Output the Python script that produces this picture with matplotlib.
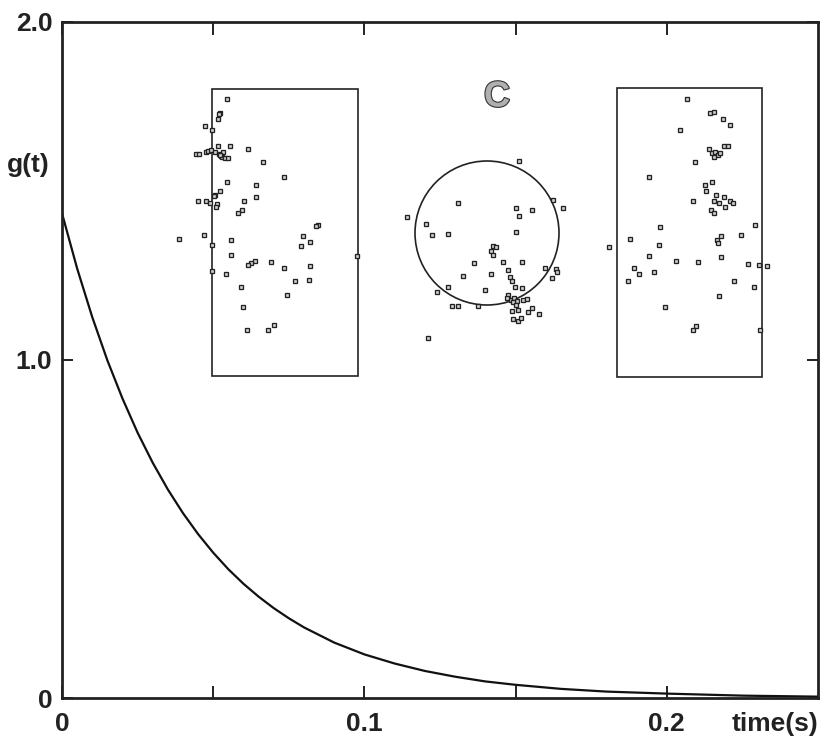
import numpy as np
import matplotlib
matplotlib.use('Agg')
import matplotlib.pyplot as plt
from matplotlib.patches import Rectangle, Circle
import matplotlib.patheffects as pe

# decay curve g(t)
t = [0, 0.005, 0.010, 0.015, 0.020, 0.025, 0.030, 0.035, 0.040, 0.045,
     0.050, 0.055, 0.060, 0.065, 0.070, 0.075, 0.080, 0.090, 0.100, 0.110,
     0.120, 0.130, 0.140, 0.150, 0.165, 0.180, 0.200, 0.225, 0.250]
g = [1.434, 1.271, 1.127, 0.999, 0.886, 0.785, 0.696, 0.617, 0.547, 0.485,
     0.430, 0.381, 0.338, 0.300, 0.266, 0.236, 0.209, 0.164, 0.129, 0.102,
     0.080, 0.063, 0.049, 0.039, 0.027, 0.019, 0.013, 0.007, 0.004]

xticks = [0, 0.05, 0.1, 0.15, 0.2]
xticklabels = ['0', '', '0.1', '', '0.2']
yticks = [0, 1.0, 2.0]
yticklabels = ['0', '1.0', '2.0']

# spike positions in the three arenas (local units, y downward)
left_x = [15, 8, 7, 6, -7, 0, 6, 18, 36, -16, -13, -6, -4, -1, 3, 11, 7, 9, 10, 13, 16, 8,
          51, 72, 15, 44, 8, 3, 2, 44, 32, -14, -6, -2, 5, 4, 30, 26, 106, 104, 91, -8,
          -33, 19, 98, 89, 0, 19, 43, 39, 36, 59, 145, 72, 98, 0, 14, 83, 97, 29, 75, 31,
          62, 56, 35]
left_y = [10, 24, 25, 30, 37, 41, 57, 57, 60, 65, 65, 63, 62, 61, 63, 63, 65, 67, 68, 69, 69, 66,
          73, 88, 93, 96, 102, 106, 107, 108, 112, 112, 112, 114, 115, 118, 121, 124, 136, 137, 147, 146,
          150, 151, 153, 157, 156, 166, 172, 174, 176, 173, 167, 179, 177, 182, 185, 192, 191, 198, 206, 218,
          236, 241, 241]

right_x = [70, 93, 97, 106, 113, 63, 107, 111, 92, 95, 98, 101, 103, 97, 78, 32, 95, 88, 89, 99,
           107, 76, 97, 102, 113, 116, 108, 94, 97, 138, 43, 124, 104, 100, 101, 13, -8, 42, 32, 104,
           59, 81, 131, 142, 150, 17, 22, 37, 11, 117, 137, 102, 48, 79, 76, 143]
right_y = [11, 25, 24, 31, 37, 42, 58, 58, 61, 65, 64, 67, 65, 69, 74, 89, 94, 97, 103, 107,
           109, 113, 113, 115, 113, 115, 119, 122, 125, 137, 139, 147, 148, 152, 155, 151, 159, 157, 168, 169,
           173, 174, 176, 177, 178, 180, 186, 184, 193, 193, 199, 208, 219, 238, 242, 242]

circ_x = [32, 66, 76, -29, 29, 45, 32, -80, -61, -55, -39, 29, 6, 9, 4, 6, -13, 16, 35, -24,
          4, 21, 23, 25, 58, 69, 70, 65, -39, -50, -2, 28, 35, 21, 24, 27, 30, 26, 20, 36,
          40, -35, -29, -9, 29, 31, 41, 45, 52, 25, 26, 31, 34, -59]
circ_y = [-72, -33, -25, -30, -25, -23, -17, -16, -9, 2, 1, -1, 13, 14, 18, 22, 30, 29, 29, 43,
          41, 37, 44, 48, 35, 36, 39, 45, 54, 59, 57, 54, 55, 62, 67, 65, 68, 69, 65, 67,
          66, 73, 73, 73, 72, 77, 79, 75, 81, 78, 86, 88, 85, 105]

W, H = 825, 746
fig = plt.figure(figsize=(W / 100, H / 100), dpi=100)
ax = fig.add_axes([62 / W, 48 / H, 756 / W, 676 / H])

ax.plot(t, g, color='#111111', lw=1.6)
ax.set_xlim(0, 0.25)
ax.set_ylim(0, 2.0)

fnt = dict(family='Liberation Sans', weight='bold', size=19)
ax.set_xticks(xticks)
ax.set_xticklabels(xticklabels, fontdict=fnt)
ax.set_yticks(yticks)
ax.set_yticklabels(yticklabels, fontdict=fnt)
ax.tick_params(axis='x', direction='in', length=9, width=1.4, top=True, pad=10, colors='#222222')
ax.tick_params(axis='y', direction='in', length=8, width=1.4, right=True, pad=7, colors='#222222')
for s in ax.spines.values():
    s.set_linewidth(2.0)
    s.set_color('#222222')

ax.annotate('time(s)', xy=(1, 0), xycoords='axes fraction', xytext=(0, -10),
            textcoords='offset points', ha='right', va='top', color='#222222', **fnt)
fig.text(7 / W, 1 - 165 / H, 'g(t)', ha='left', va='center', color='#222222', **fnt)


def px_axes(left, top, w, h):
    a = fig.add_axes([left / W, 1 - (top + h) / H, w / W, h / H])
    a.set_axis_off()
    return a


mk = dict(ls='none', marker='s', ms=3.5, mfc='#d0d0d0', mec='#222222', mew=0.95, clip_on=False)

a1 = px_axes(212, 89, 146, 287)
a1.set_xlim(0, 146)
a1.set_ylim(287, 0)
a1.add_patch(Rectangle((0, 0), 146, 287, fill=False, ec='#222222', lw=1.2, clip_on=False))
a1.plot(left_x, left_y, **mk)

a2 = px_axes(617, 88, 145, 289)
a2.set_xlim(0, 145)
a2.set_ylim(289, 0)
a2.add_patch(Rectangle((0, 0), 145, 289, fill=False, ec='#222222', lw=1.2, clip_on=False))
a2.plot(right_x, right_y, **mk)

a3 = px_axes(415, 161, 144, 144)
a3.set_xlim(-72, 72)
a3.set_ylim(72, -72)
a3.add_patch(Circle((0, 0), 72, fill=False, ec='#222222', lw=1.2, clip_on=False))
a3.plot(circ_x, circ_y, **mk)

fig.text(497 / W, 1 - 97 / H, 'C', ha='center', va='center', color='#b0b0b0',
         family='Liberation Sans', weight='bold', size=26,
         path_effects=[pe.withStroke(linewidth=1.6, foreground='#333333')])

fig.savefig('out.png', dpi=100)
